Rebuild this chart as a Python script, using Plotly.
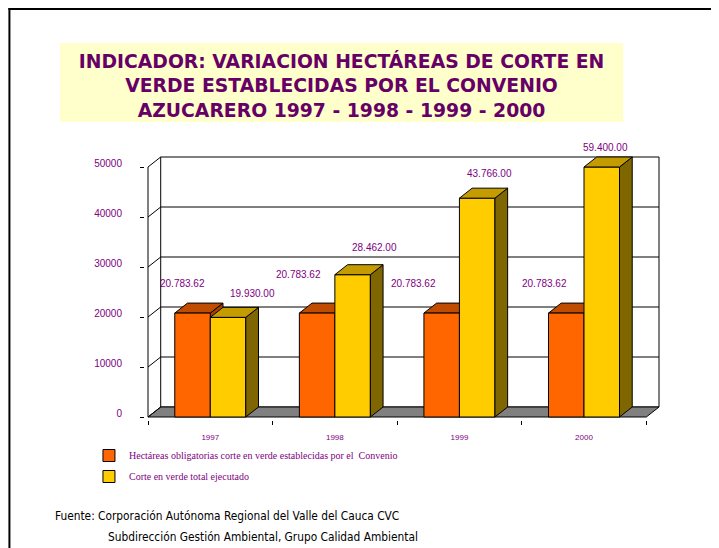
import numpy as np
import plotly.graph_objects as go

# ---------------- data ----------------
YEARS = ["1997", "1998", "1999", "2000"]
OBLIGATORIAS = [20783.62, 20783.62, 20783.62, 20783.62]
EJECUTADO = [19930.00, 28462.00, 43766.00, 59400.00]
SERIES_NAMES = [
    "Hectáreas obligatorias corte en verde establecidas por el  Convenio",
    "Corte en verde total ejecutado",
]
Y_TICKS = [0, 10000, 20000, 30000, 40000, 50000]
Y_MAX = 50000

TITLE_LINES = [
    "INDICADOR: VARIACION HECTÁREAS DE CORTE EN",
    "VERDE ESTABLECIDAS POR EL CONVENIO",
    "AZUCARERO 1997 - 1998 - 1999 - 2000",
]
SOURCE_LINES = [
    "Fuente: Corporación Autónoma Regional del Valle del Cauca CVC",
    "Subdirección Gestión Ambiental, Grupo Calidad Ambiental",
]

# ---------------- styles / geometry ----------------
BODY = 8                # page body margin of the html page
W, H = 719 - BODY, 548 - BODY


def s(v):
    """screen px -> figure px"""
    return v - BODY


FRONT_LEFT = s(148)     # px of front value axis
FRONT_BOTTOM = s(417)   # px of value 0 on the front plane
CAT_PX = 124.5          # px per category
Y_PX = 250 / 50000      # px per unit
DEPTH_X_PX, DEPTH_Y_PX = 12.7, 10
PAD = 3
PURPLE = "#800080"
TITLE_PURPLE = "#660066"
ORANGE, ORANGE_TOP, ORANGE_SIDE = "#FF6600", "#C04C00", "#A84000"
YELLOW, YELLOW_TOP, YELLOW_SIDE = "#FFCC00", "#C49C00", "#806600"
FLOOR = "#808080"
BARGAP = 0.43
# label nudges in px (dx, dy) relative to top centre of each bar
NUDGE_OBL = [(-10, 30), (-19, 39), (-28, 30), (-22, 30)]
NUDGE_EJE = [(24, 24), (22, 27), (12, 25), (4, 20)]

n = len(YEARS)
dx = DEPTH_X_PX / CAT_PX
dy = DEPTH_Y_PX / Y_PX
x_lo = -0.5 - PAD / CAT_PX
x_hi = n - 0.5 + dx + PAD / CAT_PX
y_lo = -PAD / Y_PX
y_hi = Y_MAX + dy + PAD / Y_PX
ml = FRONT_LEFT - PAD
pw = (x_hi - x_lo) * CAT_PX
mr = W - ml - pw
mb = H - (FRONT_BOTTOM + PAD)
ph = (y_hi - y_lo) * Y_PX
mt = H - mb - ph


def pxx(X):
    return (X - ml) / pw


def pxy(Y):
    return (H - mb - Y) / ph


bw = (1 - BARGAP) / 2
xs = np.arange(n)
obl = np.minimum(np.array(OBLIGATORIAS), Y_MAX)
eje = np.minimum(np.array(EJECUTADO), Y_MAX)

fig = go.Figure()
fig.add_trace(go.Bar(
    x=xs, y=obl, name=SERIES_NAMES[0], legendgroup="a",
    marker=dict(color=ORANGE, line=dict(color="#000000", width=1)),
    customdata=OBLIGATORIAS, hovertemplate="%{customdata:,.2f}<extra></extra>",
))
fig.add_trace(go.Bar(
    x=xs, y=eje, name=SERIES_NAMES[1], legendgroup="b",
    marker=dict(color=YELLOW, line=dict(color="#000000", width=1)),
    customdata=EJECUTADO, hovertemplate="%{customdata:,.2f}<extra></extra>",
))

shapes = []


def poly(pts, fill, layer, lw=1):
    d = "M " + " L ".join(f"{x},{y}" for x, y in pts) + " Z"
    shapes.append(dict(type="path", path=d, xref="x", yref="y", fillcolor=fill,
                       line=dict(color="#000000", width=lw), layer=layer))


def line(x0, y0, x1, y1, layer="below", lw=1):
    shapes.append(dict(type="line", x0=x0, y0=y0, x1=x1, y1=y1, xref="x", yref="y",
                       line=dict(color="#000000", width=lw), layer=layer))


L, R = -0.5, n - 0.5
# back wall
poly([(L + dx, dy), (R + dx, dy), (R + dx, Y_MAX + dy), (L + dx, Y_MAX + dy)], "#FFFFFF", "below")
for t in Y_TICKS[1:-1]:
    line(L + dx, t + dy, R + dx, t + dy)
# floor
poly([(L, 0), (R, 0), (R + dx, dy), (L + dx, dy)], FLOOR, "below")
# left wall
line(L, 0, L, Y_MAX)
for t in Y_TICKS:
    line(L, t, L + dx, t + dy)


def faces(center, h, top, side, layer):
    x0, x1 = center - bw / 2, center + bw / 2
    poly([(x1, 0), (x1 + dx, dy), (x1 + dx, h + dy), (x1, h)], side, layer)
    poly([(x0, h), (x1, h), (x1 + dx, h + dy), (x0 + dx, h + dy)], top, layer)


for i in range(n):
    faces(xs[i] - bw / 2, obl[i], ORANGE_TOP, ORANGE_SIDE, "below")
for i in range(n):
    faces(xs[i] + bw / 2, eje[i], YELLOW_TOP, YELLOW_SIDE, "above")

# title box & page frame
shapes.append(dict(type="rect", xref="paper", yref="paper", x0=pxx(s(60)), x1=pxx(s(623)),
                   y0=pxy(s(122)), y1=pxy(s(43)), fillcolor="#FFFFCC", line=dict(width=0), layer="below"))
shapes.append(dict(type="line", xref="paper", yref="paper", x0=pxx(s(9.5)), x1=pxx(s(9.5)),
                   y0=pxy(s(8)), y1=pxy(s(560)), line=dict(color="#000000", width=2)))
shapes.append(dict(type="line", xref="paper", yref="paper", x0=pxx(s(8.5)), x1=pxx(s(730)),
                   y0=pxy(s(9)), y1=pxy(s(9)), line=dict(color="#000000", width=2)))


def fmt(v):
    return f"{v:,.2f}".replace(",", ".")


annotations = []
for i in range(n):
    for vals, clip, off, nudge in ((OBLIGATORIAS, obl, -bw / 2, NUDGE_OBL), (EJECUTADO, eje, bw / 2, NUDGE_EJE)):
        annotations.append(dict(
            x=xs[i] + off, y=clip[i], xref="x", yref="y", text=fmt(vals[i]), showarrow=False,
            xanchor="center", yanchor="middle", xshift=nudge[i][0], yshift=nudge[i][1],
            font=dict(family="Liberation Sans, Arial", size=10, color=PURPLE),
        ))
annotations.append(dict(x=pxx(s(53)), y=pxy(s(516)), xref="paper", yref="paper", text=SOURCE_LINES[0],
                        showarrow=False, xanchor="left", yanchor="middle",
                        font=dict(family="DejaVu Sans Condensed", size=11.8, color="#000000")))
annotations.append(dict(x=pxx(s(106)), y=pxy(s(537)), xref="paper", yref="paper", text=SOURCE_LINES[1],
                        showarrow=False, xanchor="left", yanchor="middle",
                        font=dict(family="DejaVu Sans Condensed", size=11.8, color="#000000")))

fig.update_layout(
    width=W, height=H,
    margin=dict(l=ml, r=mr, t=mt, b=mb, pad=0),
    paper_bgcolor="#FFFFFF", plot_bgcolor="rgba(0,0,0,0)",
    barmode="group", bargap=BARGAP, bargroupgap=0,
    title=dict(text="<br>".join(TITLE_LINES), x=s(341.5) / W, xanchor="center", xref="container",
               y=1 - 59.7 / H, yanchor="middle", yref="container",
               font=dict(family="DejaVu Sans", size=18.8, color=TITLE_PURPLE, weight="bold")),
    xaxis=dict(range=[x_lo, x_hi], tickmode="array", tickvals=list(xs), ticktext=YEARS,
               ticks="", showgrid=False, zeroline=False, showline=False, automargin=False,
               tickfont=dict(family="Liberation Sans, Arial", size=8, color=PURPLE),
               ticklabelstandoff=11,
               minor=dict(tickmode="array", tickvals=[k - 0.5 for k in range(n + 1)], ticks="outside",
                          ticklen=4, tickcolor="#000000", showgrid=False)),
    yaxis=dict(range=[y_lo, y_hi], tickmode="array", tickvals=Y_TICKS, ticktext=[str(t) for t in Y_TICKS],
               ticks="outside", ticklen=4, tickcolor="#000000", showgrid=False, zeroline=False,
               showline=False, automargin=False, ticklabelshift=-4, ticklabelstandoff=16,
               tickfont=dict(family="Liberation Sans, Arial", size=10, color=PURPLE)),
    legend=dict(x=pxx(81), y=pxy(433), xanchor="left", yanchor="top", orientation="v",
                traceorder="grouped", tracegroupgap=2, bgcolor="rgba(0,0,0,0)",
                font=dict(family="Liberation Serif, Times New Roman", size=10, color=PURPLE)),
    shapes=shapes, annotations=annotations, showlegend=True,
)

fig.write_html("out.html")
